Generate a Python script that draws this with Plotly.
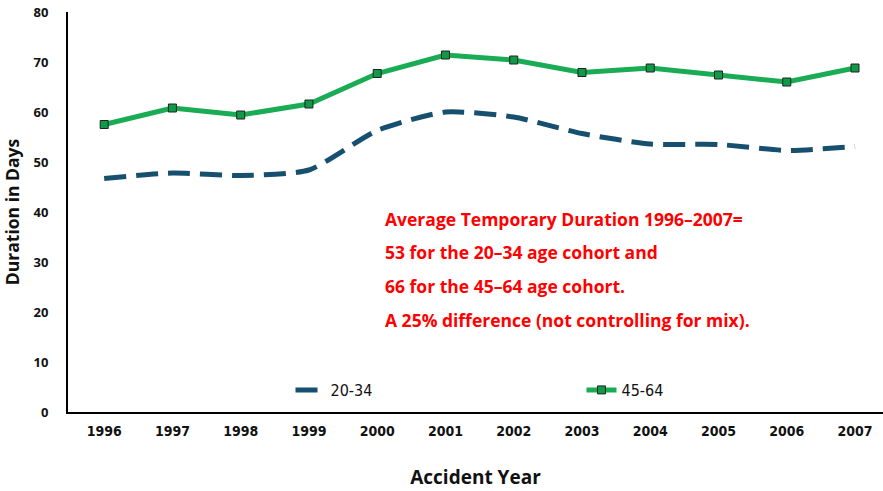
import plotly.graph_objects as go

anos = ['1996', '1997', '1998', '1999', '2000', '2001', '2002', '2003', '2004', '2005', '2006', '2007']
idade_20_34 = [46.7, 47.8, 47.3, 48.4, 56.3, 60.0, 59.0, 55.7, 53.6, 53.5, 52.3, 53.1]
idade_45_64 = [57.5, 60.8, 59.4, 61.6, 67.7, 71.4, 70.4, 67.9, 68.8, 67.4, 66.0, 68.8]
y_ticks = [0, 10, 20, 30, 40, 50, 60, 70, 80]
notas = ['Average Temporary Duration 1996\u20132007=',
         '53 for the 20\u201334 age cohort and',
         '66 for the 45\u201364 age cohort.',
         'A 25% difference (not controlling for mix).']

narrow = 'DejaVu Sans Condensed, Roboto, sans-serif'

fig = go.Figure()
fig.add_trace(go.Scatter(x=anos, y=idade_20_34, name='20-34', mode='lines',
                         line=dict(color='#17506f', width=5, dash='22px,10px', shape='spline', smoothing=0.6)))
fig.add_trace(go.Scatter(x=anos, y=idade_45_64, name='45-64', mode='lines+markers',
                         line=dict(color='#1aab55', width=5),
                         marker=dict(symbol='square', size=8, color='#0e9a48',
                                     line=dict(color='#222222', width=1))))

# texto vermelho
for i, t in enumerate(notas):
    fig.add_annotation(text=t, xref='paper', yref='paper', x=0.387, y=0.483 - i * 0.084,
                       xanchor='left', yanchor='middle', showarrow=False,
                       font=dict(family='Open Sans', size=17.5, color='#ff0000', weight='bold'))

fig.update_layout(
    width=883, height=491,
    plot_bgcolor='white', paper_bgcolor='white',
    margin=dict(l=68, r=0, t=12, b=79),
    showlegend=True,
    legend=dict(orientation='h', x=0.273, y=0.055, xanchor='left', yanchor='middle',
                entrywidth=246, font=dict(family=narrow, size=16, color='#111111'),
                bgcolor='rgba(0,0,0,0)'),
    xaxis=dict(type='category', range=[-0.53, 11.41], showline=True, linecolor='black', linewidth=2,
               showgrid=False, ticks='', automargin=False, ticklabelstandoff=5,
               tickfont=dict(family=narrow, size=14, color='#111111', weight='bold'),
               title=dict(text='Accident Year', standoff=33,
                          font=dict(family='Open Sans', size=19, color='#111111', weight='bold'))),
    yaxis=dict(range=[0, 80], tickvals=y_ticks, showline=True, linecolor='black', linewidth=2,
               showgrid=False, zeroline=False, ticks='', ticklabelstandoff=15, automargin=False,
               tickfont=dict(family='Open Sans', size=13, color='#111111', weight='bold'),
               title=dict(text='Duration in Days', standoff=10,
                          font=dict(family='Open Sans', size=17.5, color='#111111', weight='bold'))),
)

# tira a margem padrao do body
fig.write_html("out.html", config={'displayModeBar': False},
               post_script="document.body.style.margin='0';")
